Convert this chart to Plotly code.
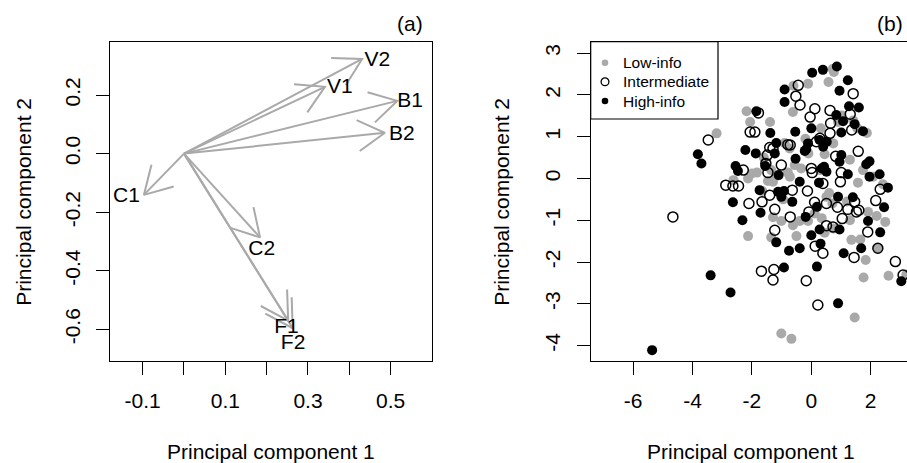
import numpy as np
import plotly.graph_objects as go

# ---------------- data ----------------
# Panel (a): loadings (arrow tips) and label positions
var_names = ["V2", "V1", "B1", "B2", "C1", "C2", "F1", "F2"]
load_pc1 = [0.431, 0.341, 0.516, 0.486, -0.097, 0.184, 0.252, 0.263]
load_pc2 = [0.323, 0.228, 0.180, 0.071, -0.141, -0.286, -0.570, -0.596]
label_pc1 = [0.468, 0.377, 0.547, 0.527, -0.139, 0.188, 0.248, 0.264]
label_pc2 = [0.317, 0.226, 0.177, 0.066, -0.147, -0.329, -0.596, -0.648]

# Panel (b): scores by group
low_pc1 = [0.72, 0.76, -0.11, -0.6, 0.58, -0.62, -2.18, 1.02, 1.41, -1.39, -2.06, 0.32, 1.87,
           -3.19, -0.73, 0.74, 0.45, -0.56, -1.83, -1.35, -0.79, -0.34, 1.74, -2.13, -2.62,
           -1.46, -1.29, 1.57, 2.41, 1.91, -1.29, -1.01, -0.39, -0.11, -0.62, 2.49, -2.13,
           -1.35, -0.5, 1.65, 1.35, 2.24, 1.83, 1.76, 2.6, 1.46, -1.01, -0.67, 0.51, 0.71,
           0.11, 2.08, 0.45, 1.2, -0.9, -0.2, 0.9, 1.55, -1.6, -0.95, 0.3, 1.3, 0.75, -1.65, 3.2,
           -2.0, -0.72, -1.2, 0.6, 0.35, -0.1, 1.3, 2.2]
low_pc2 = [2.62, 2.55, 2.27, 2.22, 2.31, 1.59, 1.61, 1.51, 1.39, 1.35, 1.35, 1.2, 1.09,
           1.08, 0.72, 0.84, 0.58, 0.32, 0.14, 0.2, 0.14, 0.24, 0.2, 0.0, -0.04,
           -0.06, -0.08, -0.1, -0.14, -0.8, -0.93, -1.02, -1.02, -1.02, -1.12, -1.04, -1.38,
           -1.41, -1.38, -1.46, -1.47, -1.67, -1.95, -2.37, -2.33, -3.33, -3.71, -3.84, -0.44, -0.6,
           -0.84, 0.04, -1.3, -0.55, 0.85, 0.95, 1.35, 1.2, 0.5, -0.5, 0.2, -1.0, -1.2, -0.3, -2.3,
           0.12, 0.04, 0.05, -0.35, -0.95, 0.6, 0.45, -0.9]

mid_pc1 = [-0.44, 1.41, -0.52, -0.38, 0.12, 0.63, -1.78, 1.31, -0.04, 0.65, -2.06, -1.9, 1.36,
           0.63, -3.47, -0.79, -0.71, -1.4, -1.29, 0.17, 0.29, 1.58, -1.48, 0.82, -1.01, -2.29,
           -1.46, 0.0, 0.03, 1.01, -2.88, -2.64, -2.45, 0.98, 0.39, 2.32, -0.64, -0.13, -1.4,
           -2.1, -1.66, 0.11, 0.51, 1.46, 2.17, 0.88, 1.23, 1.52, 1.6, -1.23, -0.08, -0.71, 0.51,
           0.73, 1.04, 1.9, -1.23, 0.13, 0.39, 2.24, 1.44, 2.83, -1.68, -1.26, -1.29, -0.17,
           3.09, 0.22, -4.66, -1.53]
mid_pc2 = [2.23, 2.03, 1.97, 1.76, 1.67, 1.63, 1.57, 1.54, 1.47, 1.32, 1.11, 1.11, 1.16,
           1.08, 0.92, 0.81, 0.8, 0.74, 0.72, 0.88, 0.96, 0.65, 0.56, 0.53, 0.32, 0.2,
           0.14, 0.24, 0.14, 0.14, -0.16, -0.18, -0.18, -0.08, -0.12, -0.26, -0.28, -0.3, -0.4,
           -0.6, -0.56, -0.57, -0.6, -0.56, -0.53, -0.69, -0.74, -0.8, -0.76, -0.74, -0.8, -0.92, -1.13,
           -1.16, -0.96, -1.28, -1.24, -1.62, -1.79, -1.67, -1.89, -1.99, -2.22, -2.18, -2.43, -2.45,
           -2.31, -3.03, -0.92, 0.36]

high_pc1 = [0.86, 0.39, 0.03, 1.23, -0.9, 0.95, -0.9, 1.27, 1.6, -1.85, 0.84, 1.07, 1.46, 0.0,
            -0.54, -1.38, 1.74, 1.01, -1.18, 0.28, -0.11, 0.4, -0.17, -0.22, -2.22, -3.82, -3.7,
            -1.87, -1.23, 1.01, -0.53, 0.95, 1.96, 1.85, -1.55, -2.55, -2.47, 0.43, 0.51, 1.23,
            1.96, 2.3, -0.39, 0.26, 2.58, -1.74, -1.12, -0.92, -1.01, 0.9, 1.4, -2.64, -0.64,
            0.19, 2.45, -1.71, -0.19, -2.32, 1.91, 0.95, 0.28, 0.0, 2.32, -1.18, 0.31, -0.39,
            -0.75, 1.09, 1.68, -0.92, 0.19, 3.03, -3.39, -2.72, 0.9, -5.36,
            0.52, -1.1, 0.35]
high_pc2 = [2.68, 2.6, 2.53, 2.35, 2.13, 2.1, 1.83, 1.73, 1.7, 1.61, 1.52, 1.37, 1.3, 1.2,
            1.12, 1.09, 1.13, 1.1, 0.85, 0.92, 0.84, 0.76, 0.7, 0.66, 0.68, 0.58, 0.36,
            0.6, 0.6, 0.56, 0.47, 0.4, 0.41, 0.34, 0.3, 0.3, 0.18, 0.28, 0.16, 0.1,
            0.04, 0.1, -0.08, -0.1, -0.22, -0.28, -0.32, -0.3, -0.44, -0.44, -0.45, -0.57, -0.56,
            -0.68, -0.69, -0.82, -0.92, -1.0, -1.02, -1.22, -1.22, -1.36, -1.29, -1.53, -1.56, -1.67,
            -1.73, -1.79, -1.67, -2.13, -2.11, -2.46, -2.32, -2.73, -2.99, -4.11,
            0.88, 0.08, 0.24]

group_names = ["Low-info", "Intermediate", "High-info"]

# tick labels
a_xticks = [-0.1, 0.0, 0.1, 0.2, 0.3, 0.4, 0.5]
a_xticktext = ["-0.1", "", "0.1", "", "0.3", "", "0.5"]
a_yticks = [-0.6, -0.4, -0.2, 0.0, 0.2]
a_yticktext = ["-0.6", "-0.4", "-0.2", "0.0", "0.2"]
b_xticks = [-6, -4, -2, 0, 2]
b_xticktext = ["-6", "-4", "-2", "0", "2"]
b_yticks = [-4, -3, -2, -1, 0, 1, 2, 3]
b_yticktext = ["-4", "-3", "-2", "-1", "0", "1", "2", "3"]

# ---------------- layout geometry ----------------
W, H = 907, 463
FONT = "Liberation Sans, Arial, sans-serif"
FS = 21
GRAY = "#A9A9A9"

def px_x(p):
    return p / W

def px_y(p):
    return 1 - p / H

a_dom_x = [px_x(110), px_x(432)]
b_dom_x = [px_x(590.7), 1.0]
dom_y = [px_y(361), px_y(42)]

a_xr = [-0.179, 0.600]
a_yr = [-0.708, 0.381]
b_xr = [-7.428, 3.222]
b_yr = [-4.370, 3.267]

# arrow heads computed in pixel space (R-style open heads, 30 deg)
sx = (432 - 110) / (a_xr[1] - a_xr[0])
sy = (361 - 42) / (a_yr[1] - a_yr[0])
L = 31.0
ang = np.deg2rad(30)
ax_path, ay_path = [], []
for tx, ty in zip(load_pc1, load_pc2):
    vx, vy = tx * sx, ty * sy
    n = np.hypot(vx, vy)
    bx, by = -vx / n, -vy / n
    ax_path += [0, tx, None]
    ay_path += [0, ty, None]
    ends = []
    for s in (1, -1):
        c, sn = np.cos(s * ang), np.sin(s * ang)
        rx, ry = bx * c - by * sn, bx * sn + by * c
        ends.append(((vx + L * rx) / sx, (vy + L * ry) / sy))
    ax_path += [ends[0][0], tx, ends[1][0], None]
    ay_path += [ends[0][1], ty, ends[1][1], None]

fig = go.Figure()

fig.add_trace(go.Scatter(x=ax_path, y=ay_path, mode="lines",
                         line=dict(color=GRAY, width=2), showlegend=False,
                         xaxis="x", yaxis="y", hoverinfo="skip"))
fig.add_trace(go.Scatter(x=label_pc1, y=label_pc2, mode="text", text=var_names,
                         textposition="middle center",
                         textfont=dict(family=FONT, size=FS, color="black"),
                         showlegend=False, xaxis="x", yaxis="y"))

# panel b points
fig.add_trace(go.Scatter(x=low_pc1, y=low_pc2, mode="markers", name=group_names[0],
                         marker=dict(color=GRAY, size=10, line=dict(width=0)),
                         showlegend=False, xaxis="x2", yaxis="y2"))
fig.add_trace(go.Scatter(x=mid_pc1, y=mid_pc2, mode="markers", name=group_names[1],
                         marker=dict(symbol="circle-open", color="black", size=10,
                                     line=dict(width=1.5, color="black")),
                         showlegend=False, xaxis="x2", yaxis="y2"))
fig.add_trace(go.Scatter(x=high_pc1, y=high_pc2, mode="markers", name=group_names[2],
                         marker=dict(color="black", size=10, line=dict(width=0)),
                         showlegend=False, xaxis="x2", yaxis="y2"))

tickfont = dict(family=FONT, size=FS, color="black")
common = dict(showgrid=False, zeroline=False, showline=True, linecolor="black",
              linewidth=1.2, ticks="outside", ticklen=13, tickwidth=1.2,
              tickcolor="black", tickfont=tickfont, automargin=False, fixedrange=True)

fig.update_layout(
    width=W, height=H, autosize=False,
    margin=dict(l=0, r=0, t=0, b=0),
    paper_bgcolor="white", plot_bgcolor="white",
    font=dict(family=FONT, color="black"),
    showlegend=False,
    xaxis=dict(domain=a_dom_x, range=a_xr, tickmode="array", tickvals=a_xticks,
               ticktext=a_xticktext, mirror=True, anchor="y", ticklabelstandoff=8, **common),
    yaxis=dict(domain=dom_y, range=a_yr, tickmode="array", tickvals=a_yticks,
               ticktext=a_yticktext, mirror=True, anchor="x", tickangle=-90,
               ticklabelstandoff=8, **common),
    xaxis2=dict(domain=b_dom_x, range=b_xr, tickmode="array", tickvals=b_xticks,
                ticktext=b_xticktext, mirror=True, anchor="y2", ticklabelstandoff=8, **common),
    yaxis2=dict(domain=dom_y, range=b_yr, tickmode="array", tickvals=b_yticks,
                ticktext=b_yticktext, mirror=False, anchor="x2", tickangle=-90,
                ticklabelstandoff=8, **common),
)

# ---- legend key (drawn like R's legend box) ----
leg_left, leg_top, leg_right, leg_bottom = 590.7, 41.7, 718, 119
row_y = [62.7, 81.7, 101]
sym_x = 605
text_x = 620.5
shapes = [dict(type="rect", xref="paper", yref="paper",
               x0=px_x(leg_left), x1=px_x(leg_right), y0=px_y(leg_bottom), y1=px_y(leg_top),
               line=dict(color="black", width=1.2), fillcolor="white", layer="above")]
sym_styles = [dict(r=3.3, fill=GRAY, line=GRAY, lw=0),
              dict(r=3.9, fill="white", line="black", lw=1.3),
              dict(r=3.3, fill="black", line="black", lw=0)]
for ry, st in zip(row_y, sym_styles):
    shapes.append(dict(type="circle", xref="paper", yref="paper",
                       x0=px_x(sym_x - st["r"]), x1=px_x(sym_x + st["r"]),
                       y0=px_y(ry + st["r"]), y1=px_y(ry - st["r"]),
                       fillcolor=st["fill"], line=dict(color=st["line"], width=st["lw"]),
                       layer="above"))
fig.update_layout(shapes=shapes)

ann_font = dict(family=FONT, size=FS, color="black")
annotations = [
    dict(text="(a)", x=px_x(410), y=px_y(24)),
    dict(text="(b)", x=px_x(889.7), y=px_y(24)),
    dict(text="Principal component 1", x=px_x(271), y=px_y(451.7)),
    dict(text="Principal component 1", x=px_x(751.3), y=px_y(451.7)),
    dict(text="Principal component 2", x=px_x(23.3), y=px_y(201.5), textangle=-90),
    dict(text="Principal component 2", x=px_x(501.3), y=px_y(201.5), textangle=-90),
]
for a in annotations:
    a.update(xref="paper", yref="paper", xanchor="center", yanchor="middle",
             showarrow=False, font=ann_font)
for ry, name in zip(row_y, group_names):
    annotations.append(dict(text=name, x=px_x(text_x), y=px_y(ry), xref="paper", yref="paper",
                            xanchor="left", yanchor="middle", showarrow=False,
                            font=dict(family=FONT, size=15.5, color="black")))
fig.update_layout(annotations=annotations)

fig.write_html("out.html", config={"displayModeBar": False},
               post_script="document.body.style.margin='0px';")
